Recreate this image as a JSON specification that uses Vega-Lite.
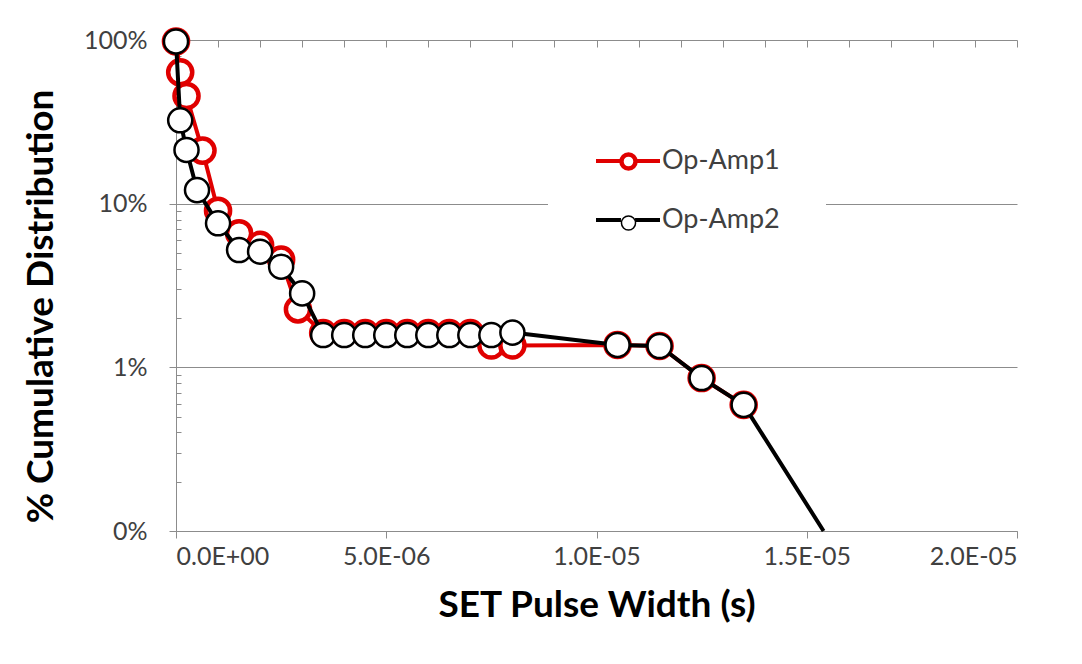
{
  "$schema": "https://vega.github.io/schema/vega-lite/v6.json",
  "width": 841,
  "height": 491,
  "autosize": "none",
  "padding": {"left": 176, "top": 40, "right": 65, "bottom": 133},
  "background": "white",
  "config": {
    "view": {"stroke": null},
    "font": "Lato"
  },
  "data": {
    "values": [
      {"series": "Op-Amp1", "w": 0, "pct": 0.98},
      {"series": "Op-Amp1", "w": 1e-7, "pct": 0.635},
      {"series": "Op-Amp1", "w": 2.5e-7, "pct": 0.455},
      {"series": "Op-Amp1", "w": 6.3e-7, "pct": 0.211},
      {"series": "Op-Amp1", "w": 1e-6, "pct": 0.0906},
      {"series": "Op-Amp1", "w": 1.5e-6, "pct": 0.066},
      {"series": "Op-Amp1", "w": 2e-6, "pct": 0.056},
      {"series": "Op-Amp1", "w": 2.5e-6, "pct": 0.0455},
      {"series": "Op-Amp1", "w": 2.9e-6, "pct": 0.0226},
      {"series": "Op-Amp1", "w": 3.5e-6, "pct": 0.0162},
      {"series": "Op-Amp1", "w": 4e-6, "pct": 0.0162},
      {"series": "Op-Amp1", "w": 4.5e-6, "pct": 0.0162},
      {"series": "Op-Amp1", "w": 5e-6, "pct": 0.0162},
      {"series": "Op-Amp1", "w": 5.5e-6, "pct": 0.0162},
      {"series": "Op-Amp1", "w": 6e-6, "pct": 0.0162},
      {"series": "Op-Amp1", "w": 6.5e-6, "pct": 0.0162},
      {"series": "Op-Amp1", "w": 7e-6, "pct": 0.0162},
      {"series": "Op-Amp1", "w": 7.5e-6, "pct": 0.0136},
      {"series": "Op-Amp1", "w": 8e-6, "pct": 0.0136},
      {"series": "Op-Amp1", "w": 1.05e-5, "pct": 0.0137},
      {"series": "Op-Amp1", "w": 1.15e-5, "pct": 0.0135},
      {"series": "Op-Amp1", "w": 1.25e-5, "pct": 0.0086},
      {"series": "Op-Amp1", "w": 1.35e-5, "pct": 0.0059},
      {"series": "Op-Amp2", "w": 0, "pct": 0.98},
      {"series": "Op-Amp2", "w": 1e-7, "pct": 0.323},
      {"series": "Op-Amp2", "w": 2.5e-7, "pct": 0.213},
      {"series": "Op-Amp2", "w": 5e-7, "pct": 0.121},
      {"series": "Op-Amp2", "w": 1e-6, "pct": 0.0759},
      {"series": "Op-Amp2", "w": 1.5e-6, "pct": 0.0521},
      {"series": "Op-Amp2", "w": 2e-6, "pct": 0.0509},
      {"series": "Op-Amp2", "w": 2.5e-6, "pct": 0.0412},
      {"series": "Op-Amp2", "w": 3e-6, "pct": 0.0283},
      {"series": "Op-Amp2", "w": 3.5e-6, "pct": 0.01575},
      {"series": "Op-Amp2", "w": 4e-6, "pct": 0.01575},
      {"series": "Op-Amp2", "w": 4.5e-6, "pct": 0.01575},
      {"series": "Op-Amp2", "w": 5e-6, "pct": 0.01575},
      {"series": "Op-Amp2", "w": 5.5e-6, "pct": 0.01575},
      {"series": "Op-Amp2", "w": 6e-6, "pct": 0.01575},
      {"series": "Op-Amp2", "w": 6.5e-6, "pct": 0.01575},
      {"series": "Op-Amp2", "w": 7e-6, "pct": 0.01575},
      {"series": "Op-Amp2", "w": 7.5e-6, "pct": 0.01575},
      {"series": "Op-Amp2", "w": 8e-6, "pct": 0.0163},
      {"series": "Op-Amp2", "w": 1.05e-5, "pct": 0.0137},
      {"series": "Op-Amp2", "w": 1.15e-5, "pct": 0.0135},
      {"series": "Op-Amp2", "w": 1.25e-5, "pct": 0.0086},
      {"series": "Op-Amp2", "w": 1.35e-5, "pct": 0.0059},
      {"series": "Op-Amp2", "w": 1.54e-5, "pct": 0.001}
    ]
  },
  "resolve": {"axis": {"x": "independent", "y": "independent"}, "legend": {"color": "independent", "stroke": "independent", "strokeWidth": "independent"}},
  "layer": [
    {
      "transform": [{"filter": "datum.series === 'Op-Amp1'"}],
      "mark": {"type": "line", "strokeWidth": 4, "strokeJoin": "round"},
      "encoding": {
        "x": {
          "field": "w", "type": "quantitative",
          "scale": {"domain": [0, 2e-5], "nice": false, "zero": false},
          "axis": {
            "values": [0, 5e-6, 1e-5, 1.5e-5, 2e-5],
            "labelExpr": "replace(replace(format(datum.value, '.1e'), 'e-', 'E-0'), 'e+', 'E+0')",
            "grid": false, "tickSize": 7, "tickColor": "#8c8c8c", "domainColor": "#8c8c8c",
            "labelFont": "Lato", "labelFontSize": 25, "labelColor": "#404040", "labelPadding": 6,
            "title": "SET Pulse Width (s)", "titleFont": "Lato", "titleFontSize": 37, "titleFontWeight": "bold",
            "titleColor": "#000000", "titlePadding": 18
          }
        },
        "y": {
          "field": "pct", "type": "quantitative",
          "scale": {"type": "log", "domain": [0.001, 1], "nice": false},
          "axis": {
            "values": [0.001, 0.01, 0.1, 1], "format": ".0%",
            "grid": true, "gridColor": "#8c8c8c", "gridWidth": 1,
            "tickSize": 7, "tickColor": "#8c8c8c", "domainColor": "#8c8c8c",
            "labelFont": "Lato", "labelFontSize": 25, "labelColor": "#404040", "labelPadding": 22,
            "title": "% Cumulative Distribution", "titleFont": "Lato", "titleFontSize": 37, "titleFontWeight": "bold",
            "titleColor": "#000000", "titlePadding": 24, "titleX": -116, "titleY": 266
          }
        },
        "color": {
          "field": "series", "type": "nominal",
          "scale": {"domain": ["Op-Amp1", "Op-Amp2"], "range": ["#e00000", "#000000"]},
          "legend": {
            "title": null, "orient": "none", "legendX": 372, "legendY": 41,
            "padding": 46, "fillColor": "white", "rowPadding": 12,
            "symbolType": "M-1,0L-0.22,0M0.22,0L1,0", "symbolSize": 4096, "symbolStrokeWidth": 4,
            "labelFont": "Lato", "labelFontSize": 27, "labelColor": "#404040", "labelOffset": 0,
            "zindex": 1
          }
        }
      }
    },
    {
      "transform": [{"filter": "datum.series === 'Op-Amp1'"}],
      "mark": {"type": "point", "shape": "circle", "filled": true, "fill": "white", "opacity": 1, "size": 580},
      "encoding": {
        "x": {
          "field": "w", "type": "quantitative",
          "axis": {
            "values": [0, 1e-6, 2e-6, 3e-6, 4e-6, 5e-6, 6e-6, 7e-6, 8e-6, 9e-6, 1e-5, 1.1e-5, 1.2e-5, 1.3e-5, 1.4e-5, 1.5e-5, 1.6e-5, 1.7e-5, 1.8e-5, 1.9e-5, 2e-5],
            "labels": false, "domain": false, "grid": false, "title": null,
            "tickSize": -7, "tickColor": "#8c8c8c"
          }
        },
        "y": {
          "field": "pct", "type": "quantitative",
          "axis": {
            "orient": "left",
            "values": [0.002, 0.003, 0.004, 0.005, 0.006, 0.007, 0.008, 0.009, 0.01, 0.02, 0.03, 0.04, 0.05, 0.06, 0.07, 0.08, 0.09, 0.1, 0.2, 0.3, 0.4, 0.5, 0.6, 0.7, 0.8, 0.9],
            "labels": false, "domain": false, "grid": false, "title": null,
            "tickSize": -5, "tickColor": "#8c8c8c"
          }
        },
        "stroke": {
          "field": "series", "type": "nominal",
          "scale": {"domain": ["Op-Amp1", "Op-Amp2"], "range": ["#e00000", "#000000"]},
          "legend": {
            "title": null, "orient": "none", "legendX": 372, "legendY": 41,
            "padding": 46, "rowPadding": 12,
            "symbolType": "M0.22,0A0.22,0.22,0,1,1,-0.22,0A0.22,0.22,0,1,1,0.22,0Z", "symbolSize": 4096,
            "symbolFillColor": "white", "symbolOpacity": 1,
            "labelFont": "Lato", "labelFontSize": 27, "labelColor": "#404040", "labelOffset": 0, "labelOpacity": 0,
            "zindex": 2
          }
        },
        "strokeWidth": {
          "field": "series", "type": "nominal",
          "scale": {"type": "ordinal", "domain": ["Op-Amp1", "Op-Amp2"], "range": [4.5, 1.5]}
        }
      }
    },
    {
      "transform": [{"filter": "datum.series === 'Op-Amp2'"}],
      "mark": {"type": "line", "strokeWidth": 4, "strokeJoin": "round"},
      "encoding": {
        "x": {"field": "w", "type": "quantitative", "axis": null},
        "y": {"field": "pct", "type": "quantitative", "axis": null},
        "color": {"field": "series", "type": "nominal", "legend": null}
      }
    },
    {
      "transform": [{"filter": "datum.series === 'Op-Amp2' && datum.pct > 0.001"}],
      "mark": {"type": "point", "shape": "circle", "filled": true, "fill": "white", "opacity": 1, "size": 580},
      "encoding": {
        "x": {"field": "w", "type": "quantitative", "axis": null},
        "y": {"field": "pct", "type": "quantitative", "axis": null},
        "stroke": {"field": "series", "type": "nominal", "legend": null},
        "strokeWidth": {"field": "series", "type": "nominal", "legend": null}
      }
    }
  ]
}
